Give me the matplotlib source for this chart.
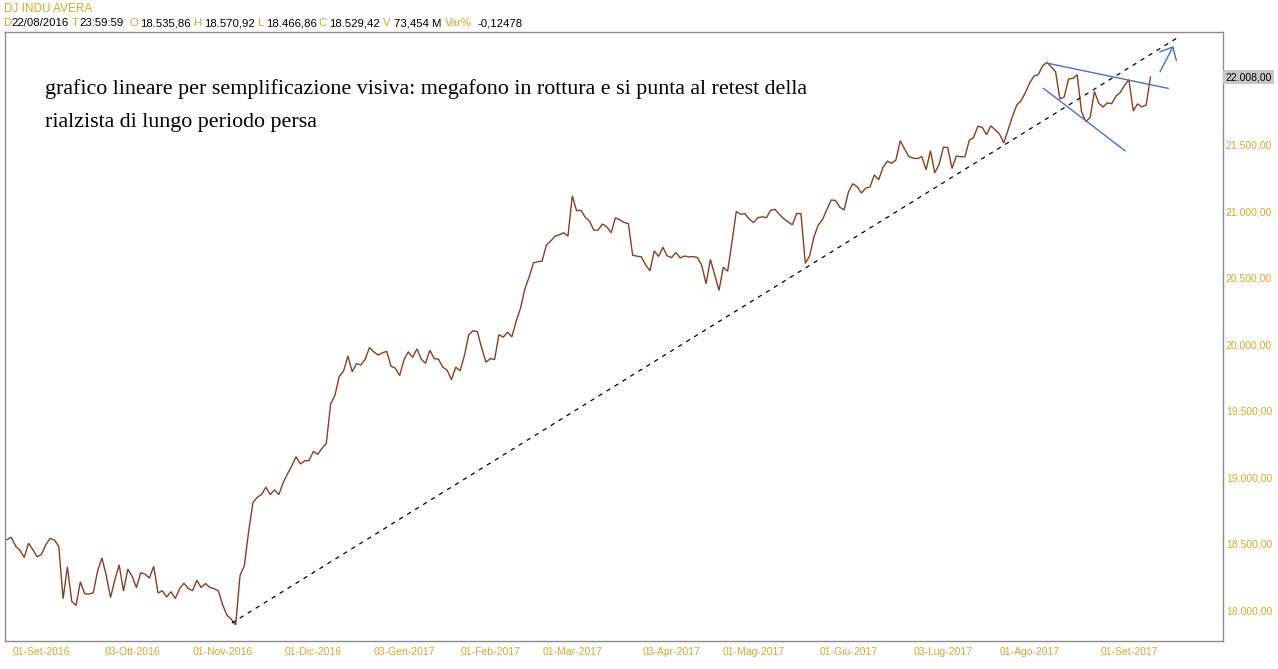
import matplotlib
matplotlib.use("Agg")
import matplotlib.pyplot as plt
from matplotlib.transforms import blended_transform_factory

W, H = 1278, 669

# Daily closes, DJ INDU AVERA, 22/08/2016 .. 11/09/2017 (trading-day index)
closes = [
    18529, 18547, 18481, 18448, 18395, 18502, 18454, 18400, 18419, 18492,
    18538, 18526, 18479, 18085, 18325, 18067, 18034, 18212, 18123, 18120,
    18130, 18294, 18392, 18261, 18094, 18228, 18339, 18143, 18308, 18253,
    18168, 18281, 18269, 18240, 18329, 18128, 18144, 18098, 18138, 18086,
    18161, 18202, 18162, 18145, 18223, 18169, 18199, 18170, 18161, 18142,
    18037, 17960, 17930, 17888, 18260, 18333, 18590, 18808, 18848, 18869,
    18924, 18868, 18904, 18868, 18957, 19024, 19084, 19153, 19098, 19122,
    19124, 19192, 19171, 19216, 19252, 19549, 19615, 19757, 19797, 19911,
    19792, 19853, 19843, 19884, 19974, 19942, 19918, 19934, 19946, 19833,
    19819, 19763, 19882, 19942, 19900, 19964, 19887, 19856, 19954, 19891,
    19886, 19826, 19804, 19732, 19827, 19799, 19913, 20069, 20100, 20094,
    19971, 19864, 19891, 19884, 20071, 20052, 20090, 20054, 20172, 20269,
    20413, 20504, 20611, 20619, 20624, 20744, 20776, 20811, 20822, 20837,
    20812, 21115, 21003, 21006, 20954, 20924, 20856, 20858, 20903, 20881,
    20837, 20950, 20934, 20915, 20906, 20668, 20661, 20656, 20596, 20551,
    20701, 20659, 20728, 20663, 20650, 20689, 20648, 20662, 20656, 20658,
    20651, 20592, 20453, 20637, 20523, 20404, 20578, 20548, 20763, 20997,
    20976, 20981, 20941, 20913, 20950, 20957, 20951, 21007, 21013, 20975,
    20943, 20919, 20897, 20982, 20980, 20607, 20663, 20805, 20895, 20937,
    21012, 21083, 21080, 21029, 21009, 21144, 21206, 21184, 21136, 21173,
    21182, 21272, 21236, 21328, 21375, 21360, 21384, 21529, 21468, 21410,
    21398, 21395, 21410, 21311, 21454, 21288, 21350, 21480, 21479, 21321,
    21414, 21409, 21409, 21532, 21554, 21638, 21630, 21575, 21641, 21612,
    21580, 21513, 21613, 21711, 21797, 21830, 21891, 21964, 22016, 22026,
    22093, 22118, 22085, 22048, 21844, 21858, 21993, 21998, 22025, 21750,
    21674, 21703, 21900, 21812, 21783, 21814, 21808, 21865, 21892, 21948,
    21988, 21753, 21807, 21784, 21798, 22008,
]

tick_idx = [8, 29, 50, 71, 92, 112, 131, 154, 173, 195, 217, 237, 260]
tick_labels = ["01-Set-2016", "03-Ott-2016", "01-Nov-2016", "01-Dic-2016",
               "03-Gen-2017", "01-Feb-2017", "01-Mar-2017", "03-Apr-2017",
               "01-Mag-2017", "01-Giu-2017", "03-Lug-2017", "01-Ago-2017",
               "01-Set-2017"]
y_ticks = [18000, 18500, 19000, 19500, 20000, 20500, 21000, 21500]
last_value = 22008

# hand-drawn trend lines (index, value)
trend_x = [52.1, 271.1]
trend_y = [17902, 22301]
upper_x = [241.3, 269.1]
upper_y = [22111, 21923]
lower_x = [240.2, 259.1]
lower_y = [21923, 21454]
arrow_tail = (267.2, 22048)
arrow_tip = (270.3, 22241)

header_title = "DJ INDU AVERA"
header_items = [("D", "22/08/2016", 3, 11), ("T", "23:59:59", 71.5, 79.5),
                ("O", "18.535,86", 129.5, 140), ("H", "18.570,92", 193.5, 204.5),
                ("L", "18.466,86", 257.5, 266), ("C", "18.529,42", 318.5, 329),
                ("V", "73,454 M", 383, 393.5), ("Var%", "-0,12478", 445, 478)]
note_lines = ["grafico lineare per semplificazione visiva: megafono in rottura e si punta al retest della",
              "rialzista di lungo periodo persa"]

ORANGE = "#DDA428"
BROWN = "#8B3E1E"
BLUE = "#4470D6"
FRAME = "#8C8C8C"


def it_fmt(v):
    s = f"{v:,.2f}"
    return s.replace(",", "X").replace(".", ",").replace("X", ".")


fig = plt.figure(figsize=(W / 100, H / 100), dpi=100)
fig.patch.set_facecolor("white")
ax = fig.add_axes([5 / W, (H - 641) / H, 1218 / W, 609 / H])

x = list(range(len(closes)))
ax.plot(x, closes, color=BROWN, lw=1.0, solid_joinstyle="miter")

ax.plot(trend_x, trend_y, color="black", lw=0.9, linestyle=(0, (3.5, 4.0)))
ax.plot(upper_x, upper_y, color=BLUE, lw=1.0)
ax.plot(lower_x, lower_y, color=BLUE, lw=1.0)
ax.annotate("", xy=arrow_tip, xytext=arrow_tail,
            arrowprops=dict(arrowstyle="->,head_length=0.5,head_width=0.45",
                            color=BLUE, lw=1.0, shrinkA=0, shrinkB=0,
                            mutation_scale=15))

ax.set_xlim(-0.46, 281.8)
ax.set_ylim(17767, 22347)

for sp in ax.spines.values():
    sp.set_color(FRAME)
    sp.set_linewidth(1.0)

ax.set_xticks(tick_idx)
ax.set_xticklabels(tick_labels)
ax.yaxis.tick_right()
ax.set_yticks(y_ticks)
ax.set_yticklabels([it_fmt(v) for v in y_ticks])
ax.tick_params(axis="both", length=0, labelcolor=ORANGE, labelsize=7.5)
ax.tick_params(axis="x", pad=4.5)
ax.tick_params(axis="y", pad=2)
for lab in ax.get_xticklabels() + ax.get_yticklabels():
    lab.set_fontfamily("Liberation Sans")

trans = blended_transform_factory(ax.transAxes, ax.transData)
ax.text(1 + 2.5 / 1218, last_value, it_fmt(last_value), transform=trans,
        ha="left", va="center", fontsize=7.5, family="Liberation Sans", color="black",
        bbox=dict(facecolor="#C8C8C8", edgecolor="none", pad=1.6), clip_on=False)

# annotation text
note_baselines = [94, 127]
for line, yb in zip(note_lines, note_baselines):
    fig.text(45 / W, 1 - yb / H, line, ha="left", va="baseline",
             fontsize=15.8, family="Liberation Serif", color="black")

# header
fig.text(4 / W, 1 - 8.5 / H, header_title, ha="left", va="center",
         fontsize=8.5, family="Liberation Sans", color=ORANGE)
for key, val, kx, vx in header_items:
    fig.text(kx / W, 1 - 23.3 / H, key, ha="left", va="center",
             fontsize=8.2, family="Liberation Sans", color=ORANGE)
    fig.text(vx / W, 1 - 23.3 / H, val, ha="left", va="center",
             fontsize=8.2, family="Liberation Sans", color="black")

fig.savefig("out.png", dpi=100, facecolor="white")
